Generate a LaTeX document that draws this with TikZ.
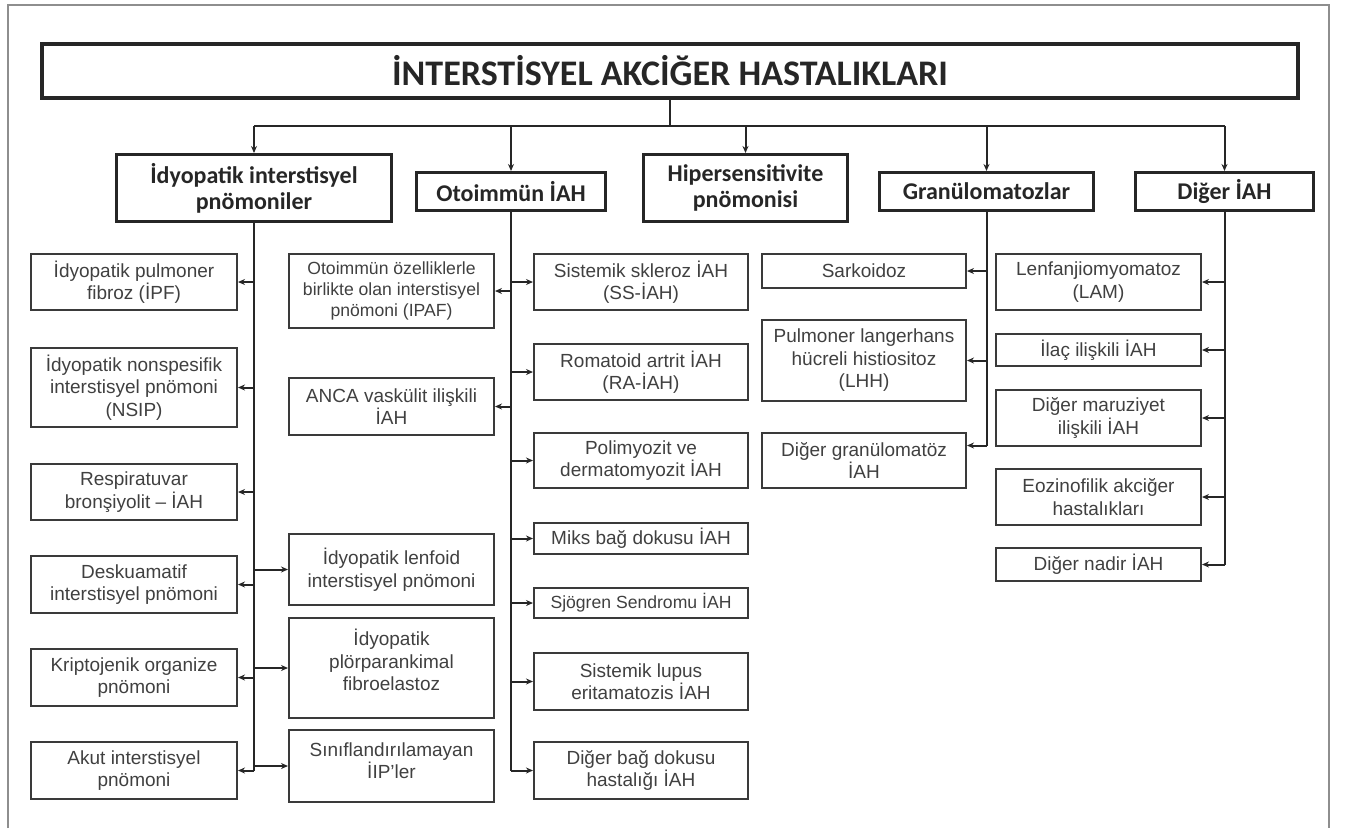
\documentclass[tikz,border=0pt]{standalone}
\usepackage{fontspec}
\setmainfont{Liberation Sans}
\newfontfamily\calibrifont{Carlito}
\usetikzlibrary{arrows.meta}
\definecolor{ink}{HTML}{262626}
\definecolor{boxline}{HTML}{3A3A3A}
\definecolor{boxtext}{HTML}{404040}
\definecolor{framegray}{HTML}{8E8E8E}
\tikzset{
    titlebox/.style={draw=ink,line width=4.5pt,inner sep=0pt,text=ink,
      font=\calibrifont\bfseries\fontsize{36}{40}\selectfont},
    catbox/.style={draw=ink,line width=3pt,inner sep=0pt,align=center,text=ink,
      font=\calibrifont\bfseries\fontsize{24}{26}\selectfont},
    subbox/.style={draw=boxline,line width=2pt,inner sep=0pt,align=center,
      text=boxtext,font=\fontsize{19}{22.5}\selectfont},
    smalltext/.style={font=\fontsize{17.6}{21}\selectfont},
    colA/.style={subbox,minimum width=206pt},
    colB/.style={subbox,minimum width=205pt},
    colC/.style={subbox,minimum width=214pt},
    colD/.style={subbox,minimum width=204pt},
    colE/.style={subbox,minimum width=205pt},
    link/.style={draw=ink,line width=2pt},
    linkarrow/.style={link,-{Stealth[length=7pt,width=6pt]}}
}
\begin{document}
\begin{tikzpicture}[x=1pt,y=-1pt]
  \useasboundingbox (0,0) rectangle (1346,828);
  \draw[framegray,line width=2.5pt] (8,828) -- (8,5) -- (1329,5) -- (1329,828);

  % title and the five groups
  \node[titlebox,minimum width=1256pt,minimum height=54pt] (title) at (670,71)
    {İNTERSTİSYEL AKCİĞER HASTALIKLARI};
  \node[catbox,minimum width=275pt,minimum height=67pt] (idy) at (254,188)
    {İdyopatik interstisyel\\pnömoniler};
  \node[catbox,minimum width=189pt,minimum height=38pt] (oto) at (511,191.5)
    {Otoimmün İAH};
  \node[catbox,minimum width=204pt,minimum height=67pt] (hip) at (745.5,188)
    {Hipersensitivite\\pnömonisi};
  \node[catbox,minimum width=214pt,minimum height=38pt] (gra) at (986.5,191.5)
    {Granülomatozlar};
  \node[catbox,minimum width=178pt,minimum height=38pt] (dig) at (1224.5,191.5)
    {Diğer İAH};

  \draw[link] (title.south) -- ++(0,26) coordinate (hub);
  \draw[link] (idy.north |- hub) -- (dig.north |- hub);
  \foreach \c in {idy,oto,hip,gra,dig}
    \draw[linkarrow] (\c.north |- hub) -- (\c.north);

  % idiopathic interstitial pneumonias
  \node[colA,minimum height=56pt] (ipf) at (134,282) {İdyopatik pulmoner\\fibroz (İPF)};
  \node[colA,minimum height=79pt] (nsip) at (134,387.5)
    {İdyopatik nonspesifik\\interstisyel pnömoni\\(NSIP)};
  \node[colA,minimum height=56pt] (rb) at (134,492) {Respiratuvar\\bronşiyolit -- İAH};
  \node[colA,minimum height=57pt] (desq) at (134,584.5) {Deskuamatif\\interstisyel pnömoni};
  \node[colA,minimum height=57pt] (kop) at (134,677.5) {Kriptojenik organize\\pnömoni};
  \node[colA,minimum height=57pt] (aip) at (134,770.5) {Akut interstisyel\\pnömoni};
  \node[colB,minimum height=71pt] (lip) at (391.5,569.5) {İdyopatik lenfoid\\interstisyel pnömoni};
  \node[colB,minimum height=100pt,text depth=16pt] (ppfe) at (391.5,668)
    {İdyopatik\\plörparankimal\\fibroelastoz};
  \node[colB,minimum height=72pt,text depth=11pt] (unc) at (391.5,766)
    {Sınıflandırılamayan\\İIP'ler};

  \draw[link] (idy.south) -- (idy.south |- aip.east);
  \foreach \b in {ipf,nsip,rb,desq,kop,aip}
    \draw[linkarrow] (idy.south |- \b.east) -- (\b.east);
  \foreach \b in {lip,ppfe,unc}
    \draw[linkarrow] (idy.south |- \b.west) -- (\b.west);

  % autoimmune
  \node[colB,smalltext,minimum height=74pt] (ipaf) at (391.5,291)
    {Otoimmün özelliklerle\\birlikte olan interstisyel\\pnömoni (IPAF)};
  \node[colB,minimum height=57pt] (anca) at (391.5,406.5) {ANCA vaskülit ilişkili\\İAH};
  \node[colC,minimum height=56pt] (ss) at (641,282) {Sistemik skleroz İAH\\(SS-İAH)};
  \node[colC,minimum height=56pt] (ra) at (641,372) {Romatoid artrit İAH\\(RA-İAH)};
  \node[colC,minimum height=55pt] (pm) at (641,460.5) {Polimyozit ve\\dermatomyozit İAH};
  \node[colC,minimum height=31pt] (mix) at (641,538.5) {Miks bağ dokusu İAH};
  \node[colC,smalltext,minimum height=30pt] (sjo) at (641,603) {Sjögren Sendromu İAH};
  \node[colC,minimum height=57pt] (sle) at (641,681.5) {Sistemik lupus\\eritamatozis İAH};
  \node[colC,minimum height=57pt] (oth) at (641,770.5) {Diğer bağ dokusu\\hastalığı İAH};

  \draw[link] (oto.south) -- (oto.south |- oth.west);
  \foreach \b in {ipaf,anca}
    \draw[linkarrow] (oto.south |- \b.east) -- (\b.east);
  \foreach \b in {ss,ra,pm,mix,sjo,sle,oth}
    \draw[linkarrow] (oto.south |- \b.west) -- (\b.west);

  % granulomatous
  \node[colD,minimum height=34pt] (sar) at (864,271) {Sarkoidoz};
  \node[colD,minimum height=81pt] (lhh) at (864,360.5)
    {Pulmoner langerhans\\hücreli histiositoz\\(LHH)};
  \node[colD,minimum height=55pt] (dgr) at (864,460.5) {Diğer granülomatöz\\İAH};
  \coordinate (dgrin) at ([yshift=15pt]dgr.east);

  \draw[link] (gra.south) -- (gra.south |- dgrin);
  \foreach \b in {sar,lhh}
    \draw[linkarrow] (gra.south |- \b.east) -- (\b.east);
  \draw[linkarrow] (gra.south |- dgrin) -- (dgrin);

  % other
  \node[colE,minimum height=56pt] (lam) at (1098.5,282) {Lenfanjiomyomatoz\\(LAM)};
  \node[colE,minimum height=32pt] (ilac) at (1098.5,350) {İlaç ilişkili İAH};
  \node[colE,minimum height=56pt] (mar) at (1098.5,418) {Diğer maruziyet\\ilişkili İAH};
  \node[colE,minimum height=56pt] (eoz) at (1098.5,497) {Eozinofilik akciğer\\hastalıkları};
  \node[colE,minimum height=33pt] (nad) at (1098.5,564.5) {Diğer nadir İAH};

  \draw[link] (dig.south) -- (dig.south |- nad.east);
  \foreach \b in {lam,ilac,mar,eoz,nad}
    \draw[linkarrow] (dig.south |- \b.east) -- (\b.east);
\end{tikzpicture}
\end{document}
